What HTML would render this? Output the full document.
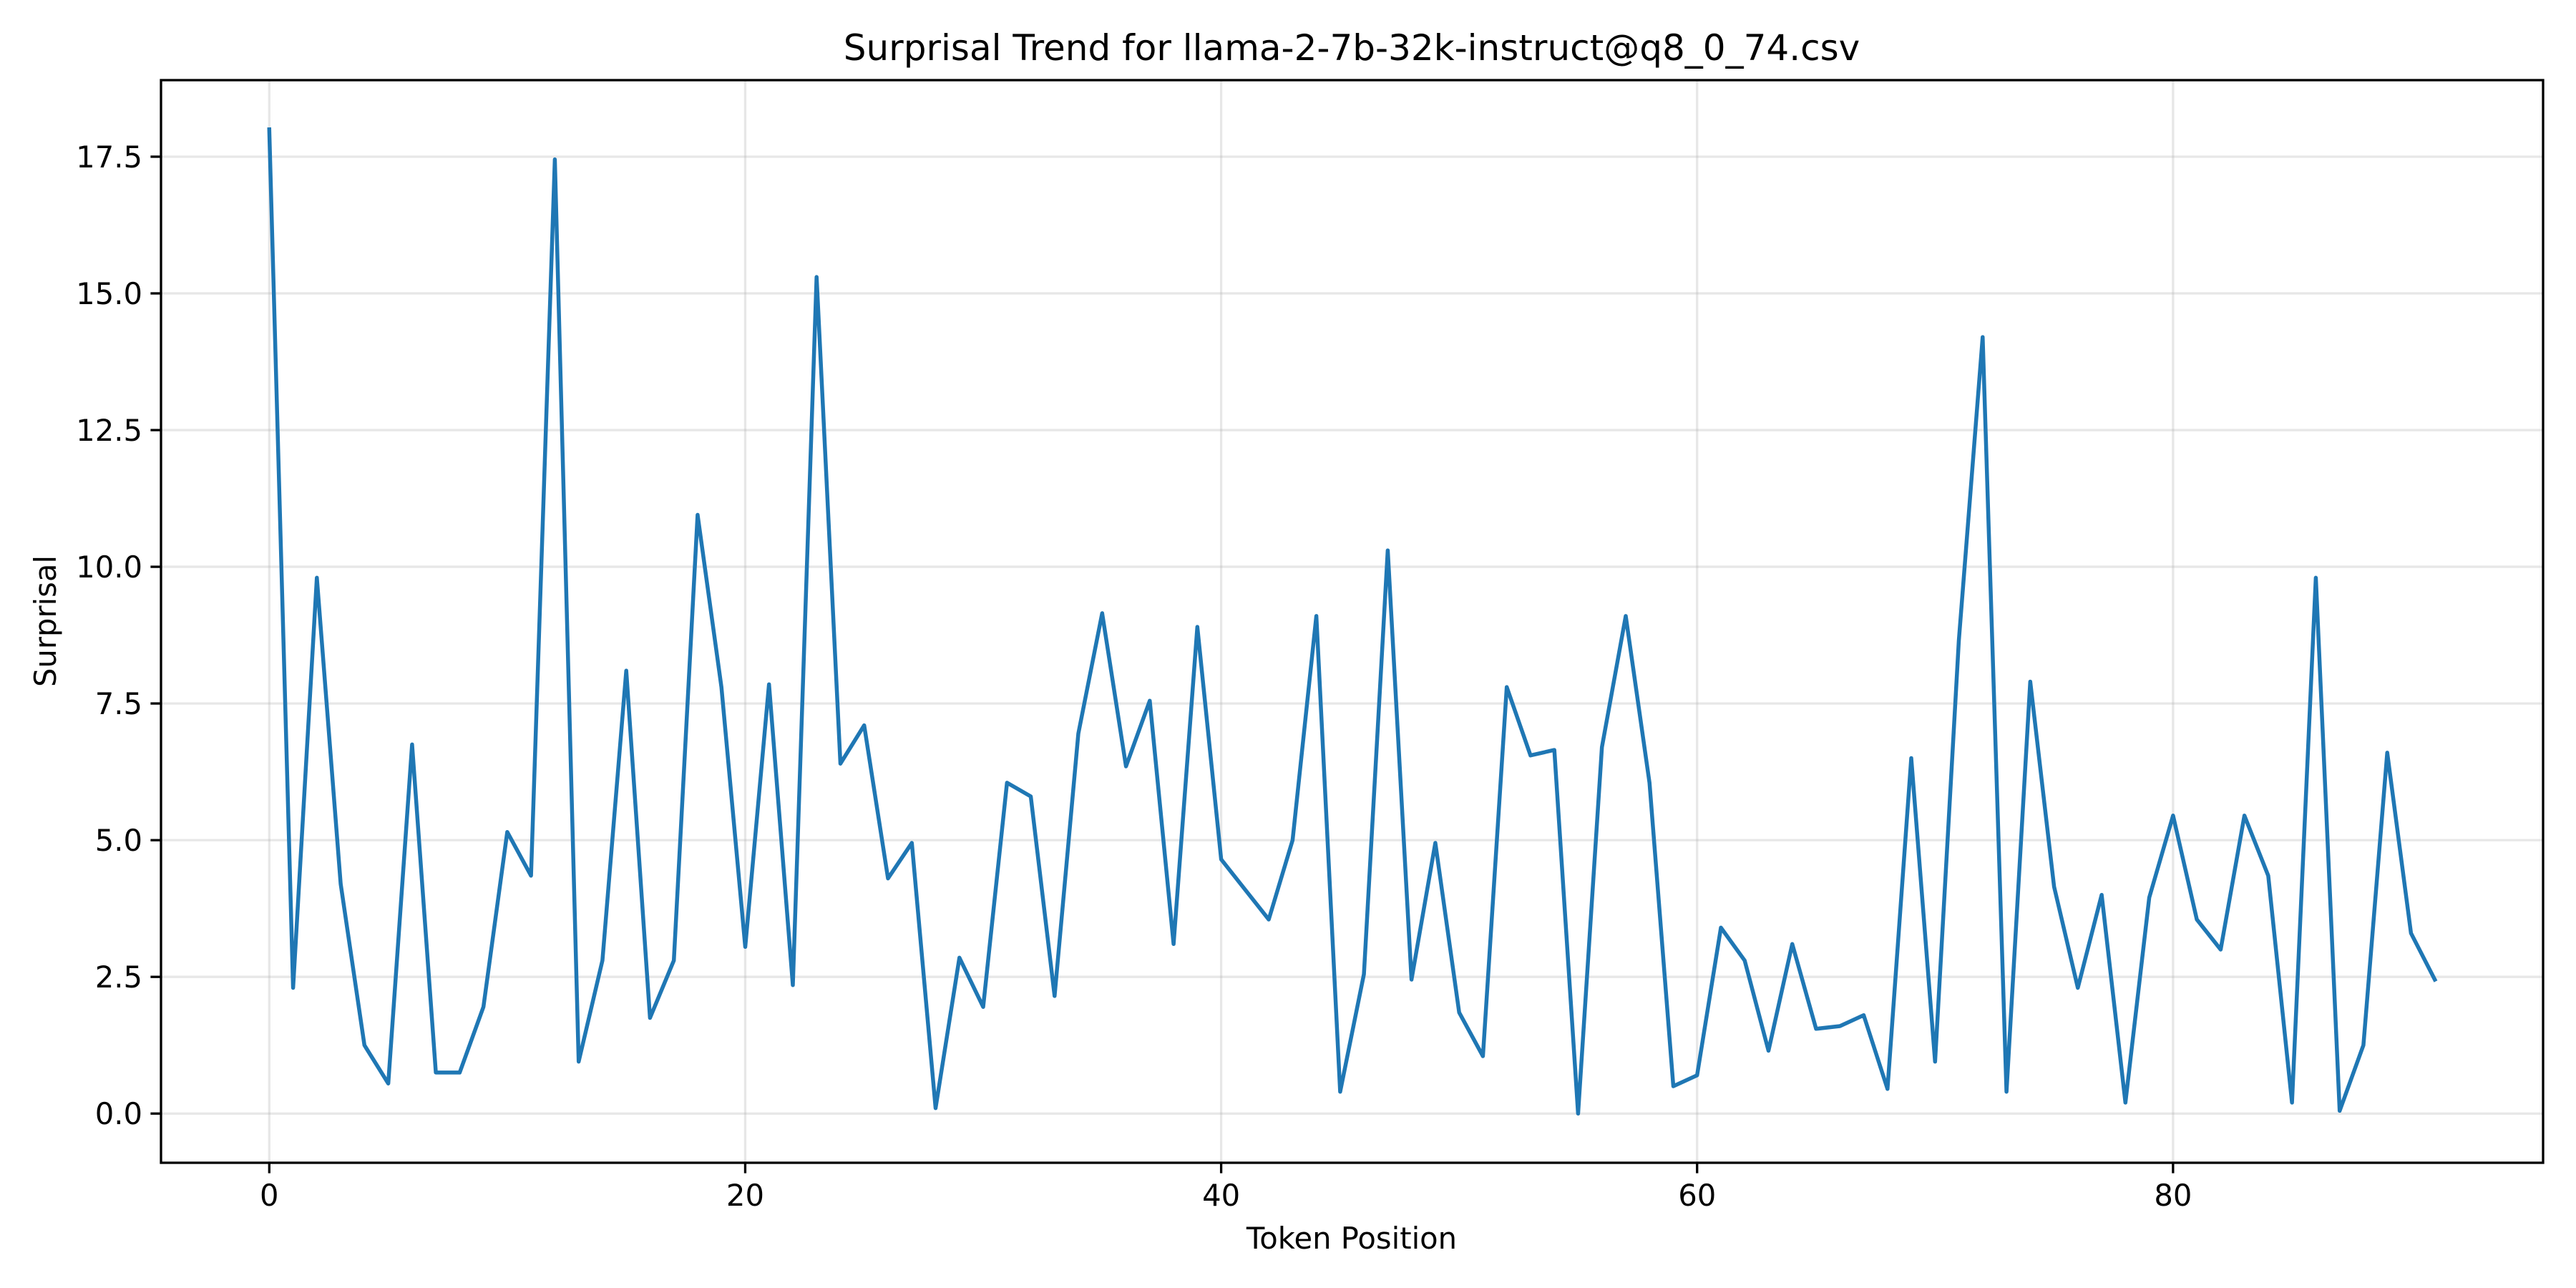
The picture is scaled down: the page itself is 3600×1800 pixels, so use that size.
<!DOCTYPE html>
<html><head><meta charset="utf-8"><style>
html,body{margin:0;padding:0;background:#fff;}
svg{display:block;font-family:"DejaVu Sans","Liberation Sans",sans-serif;}
</style></head><body>
<svg id="chart" width="3600" height="1800" viewBox="0 0 3600 1800" xmlns="http://www.w3.org/2000/svg">
<rect width="3600" height="1800" fill="#fff"/>
<g id="grid"></g>
<g id="ticks"></g>
<path id="line" fill="none" stroke="#1f77b4" stroke-width="5.5" stroke-linejoin="round" stroke-linecap="square"/>
<rect x="225" y="112" width="3329" height="1513" fill="none" stroke="#000" stroke-width="3.3"/>
<text x="1889" y="84" font-size="50" text-anchor="middle">Surprisal Trend for llama-2-7b-32k-instruct@q8_0_74.csv</text>
<text x="1889" y="1745" font-size="41.7" text-anchor="middle">Token Position</text>
<text x="78" y="868" font-size="41.7" text-anchor="middle" transform="rotate(-90 78 868)">Surprisal</text>
</svg>
<script>
const values = [18.0,2.3,9.8,4.2,1.25,0.55,6.75,0.75,0.75,1.95,5.15,4.35,17.45,0.95,2.8,8.1,1.75,2.8,10.95,7.8,3.05,7.85,2.35,15.3,6.4,7.1,4.3,4.95,0.1,2.85,1.95,6.05,5.8,2.15,6.95,9.15,6.35,7.55,3.1,8.9,4.65,4.1,3.55,5.0,9.1,0.4,2.55,10.3,2.45,4.95,1.85,1.05,7.8,6.55,6.65,0.0,6.7,9.1,6.05,0.5,0.7,3.4,2.8,1.15,3.1,1.55,1.6,1.8,0.45,6.5,0.95,8.65,14.2,0.4,7.9,4.15,2.3,4.0,0.2,3.95,5.45,3.55,3.0,5.45,4.35,0.2,9.8,0.05,1.25,6.6,3.3,2.45];
const xTicks = [0,20,40,60,80];
const yTicks = [0,2.5,5,7.5,10,12.5,15,17.5];
const yTickLabels = ["0.0","2.5","5.0","7.5","10.0","12.5","15.0","17.5"];

const L=225,R=3554,T=112,B=1625;
const n=values.length;
const xmin=-(n-1)*0.05, xmax=(n-1)*1.05;
const vmax=Math.max(...values), vmin=Math.min(...values);
const pad=(vmax-vmin)*0.05;
const ymin=vmin-pad, ymax=vmax+pad;
const xs=v=>L+(v-xmin)/(xmax-xmin)*(R-L);
const ys=v=>B-(v-ymin)/(ymax-ymin)*(B-T);
const NS="http://www.w3.org/2000/svg";
const grid=document.getElementById('grid'), ticks=document.getElementById('ticks');
function mk(tag,attrs,parent){const e=document.createElementNS(NS,tag);for(const k in attrs)e.setAttribute(k,attrs[k]);parent.appendChild(e);return e;}
xTicks.forEach(t=>{
  const x=xs(t);
  const g=mk('line',{x1:x,x2:x,y1:T,y2:B,stroke:'#b0b0b0','stroke-opacity':0.3,'stroke-width':3.3},grid);
  
  
  const k=mk('line',{x1:x,x2:x,y1:B,y2:B+14.6,stroke:'#000','stroke-width':3.3},ticks);
  
  
  const tx=mk('text',{x:x,y:B+60,'font-size':41.7,'text-anchor':'middle'},ticks);
  tx.textContent=t;
  
  
});
yTicks.forEach((t,i)=>{
  const y=ys(t);
  const g=mk('line',{x1:L,x2:R,y1:y,y2:y,stroke:'#b0b0b0','stroke-opacity':0.3,'stroke-width':3.3},grid);
  
  
  const k=mk('line',{x1:L-14.6,x2:L,y1:y,y2:y,stroke:'#000','stroke-width':3.3},ticks);
  
  
  const tx=mk('text',{x:L-26,y:y+15,'font-size':41.7,'text-anchor':'end'},ticks);
  tx.textContent=yTickLabels[i];
  
  
});
document.getElementById('line').setAttribute('d',values.map((v,i)=>(i?'L':'M')+xs(i).toFixed(1)+' '+ys(v).toFixed(1)).join(' '));
</script>
</body></html>
